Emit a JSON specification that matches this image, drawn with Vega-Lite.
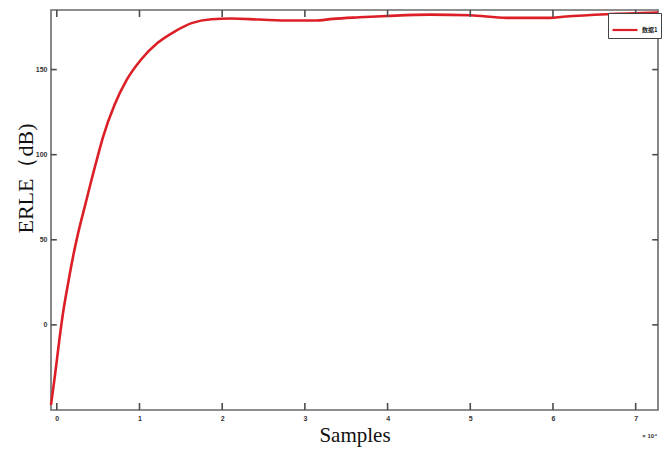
{
  "$schema": "https://vega.github.io/schema/vega-lite/v6.json",
  "width": 607,
  "height": 400,
  "autosize": {"type": "none"},
  "padding": {"left": 51, "top": 10, "right": 11, "bottom": 40},
  "background": "white",
  "config": {
    "view": {"stroke": "#6a6a6a", "strokeWidth": 1.6},
    "axis": {"grid": false, "domain": false, "ticks": false, "labelFont": "Liberation Sans", "labelFontWeight": "bold", "labelFontSize": 7, "labelColor": "#333"}
  },
  "datasets": {
    "curve": [
      {"x": -0.07, "y": -47, "s": "数据1"},
      {"x": -0.024, "y": -30.4, "s": "数据1"},
      {"x": 0.036, "y": -6.9, "s": "数据1"},
      {"x": 0.076, "y": 7.2, "s": "数据1"},
      {"x": 0.137, "y": 24.5, "s": "数据1"},
      {"x": 0.197, "y": 40.2, "s": "数据1"},
      {"x": 0.258, "y": 53.9, "s": "数据1"},
      {"x": 0.339, "y": 69.6, "s": "数据1"},
      {"x": 0.42, "y": 85.3, "s": "数据1"},
      {"x": 0.5, "y": 100.0, "s": "数据1"},
      {"x": 0.56, "y": 110.5, "s": "数据1"},
      {"x": 0.7, "y": 129.5, "s": "数据1"},
      {"x": 0.84, "y": 143.5, "s": "数据1"},
      {"x": 1.02, "y": 155.9, "s": "数据1"},
      {"x": 1.22, "y": 165.7, "s": "数据1"},
      {"x": 1.43, "y": 172.5, "s": "数据1"},
      {"x": 1.63, "y": 177.3, "s": "数据1"},
      {"x": 1.87, "y": 179.6, "s": "数据1"},
      {"x": 2.11, "y": 180.0, "s": "数据1"},
      {"x": 2.45, "y": 179.4, "s": "数据1"},
      {"x": 2.82, "y": 178.8, "s": "数据1"},
      {"x": 3.12, "y": 178.8, "s": "数据1"},
      {"x": 3.34, "y": 179.8, "s": "数据1"},
      {"x": 3.66, "y": 180.7, "s": "数据1"},
      {"x": 4.0, "y": 181.5, "s": "数据1"},
      {"x": 4.51, "y": 182.3, "s": "数据1"},
      {"x": 5.0, "y": 181.9, "s": "数据1"},
      {"x": 5.44, "y": 180.4, "s": "数据1"},
      {"x": 5.96, "y": 180.4, "s": "数据1"},
      {"x": 6.12, "y": 181.0, "s": "数据1"},
      {"x": 6.65, "y": 182.5, "s": "数据1"},
      {"x": 7.27, "y": 183.5, "s": "数据1"}
    ],
    "xticks": [{"v": 0}, {"v": 1}, {"v": 2}, {"v": 3}, {"v": 4}, {"v": 5}, {"v": 6}, {"v": 7}],
    "yticks": [{"v": 0}, {"v": 50}, {"v": 100}, {"v": 150}]
  },
  "layer": [
    {
      "data": {"name": "curve"},
      "mark": {"type": "line", "strokeWidth": 2.6, "interpolate": "monotone"},
      "encoding": {
        "x": {"field": "x", "type": "quantitative", "scale": {"domain": [-0.07, 7.27], "nice": false, "zero": false},
          "axis": {"orient": "bottom", "values": [0,1,2,3,4,5,6,7], "format": "d", "labelPadding": 4, "title": "Samples", "titleFont": "Liberation Serif", "titleFontSize": 21, "titleFontWeight": "normal", "titleColor": "#111", "titlePadding": 3}},
        "y": {"field": "y", "type": "quantitative", "scale": {"domain": [-50, 185], "nice": false, "zero": false},
          "axis": {"orient": "left", "values": [0,50,100,150], "format": "d", "labelPadding": 4, "title": "ERLE（dB)", "titleFont": "Liberation Serif", "titleFontSize": 22, "titleFontWeight": "normal", "titleColor": "#111", "titleX": -14, "titleY": 168}},
        "color": {"field": "s", "type": "nominal", "scale": {"range": ["#dc1f26"]},
          "legend": {"title": null, "orient": "none", "legendX": 557, "legendY": 3, "symbolType": "stroke", "symbolSize": 625, "symbolStrokeWidth": 2.2, "labelFont": "Noto Sans CJK SC", "labelFontSize": 6, "labelFontWeight": "bold", "labelColor": "#222", "strokeColor": "#444", "fillColor": "white", "padding": 3, "cornerRadius": 0, "labelOffset": 3}}
      }
    },
    {
      "data": {"name": "xticks"},
      "mark": {"type": "rule", "color": "#4d4d4d", "strokeWidth": 1.6},
      "encoding": {"x": {"field": "v", "type": "quantitative"}, "y": {"datum": -50}, "y2": {"datum": -45.9}}
    },
    {
      "data": {"name": "xticks"},
      "mark": {"type": "rule", "color": "#4d4d4d", "strokeWidth": 1.6},
      "encoding": {"x": {"field": "v", "type": "quantitative"}, "y": {"datum": 185}, "y2": {"datum": 180.9}}
    },
    {
      "data": {"name": "yticks"},
      "mark": {"type": "rule", "color": "#4d4d4d", "strokeWidth": 1.6},
      "encoding": {"y": {"field": "v", "type": "quantitative"}, "x": {"datum": -0.07}, "x2": {"datum": 0.0}}
    },
    {
      "data": {"name": "yticks"},
      "mark": {"type": "rule", "color": "#4d4d4d", "strokeWidth": 1.6},
      "encoding": {"y": {"field": "v", "type": "quantitative"}, "x": {"datum": 7.27}, "x2": {"datum": 7.2}}
    },
    {
      "data": {"values": [{"x": 7.17, "y": -65.5, "t": "× 10⁴"}]},
      "mark": {"type": "text", "fontSize": 6, "fontWeight": "bold", "font": "Liberation Sans", "color": "#333"},
      "encoding": {
        "x": {"field": "x", "type": "quantitative"},
        "y": {"field": "y", "type": "quantitative"},
        "text": {"field": "t"}
      }
    }
  ]
}
